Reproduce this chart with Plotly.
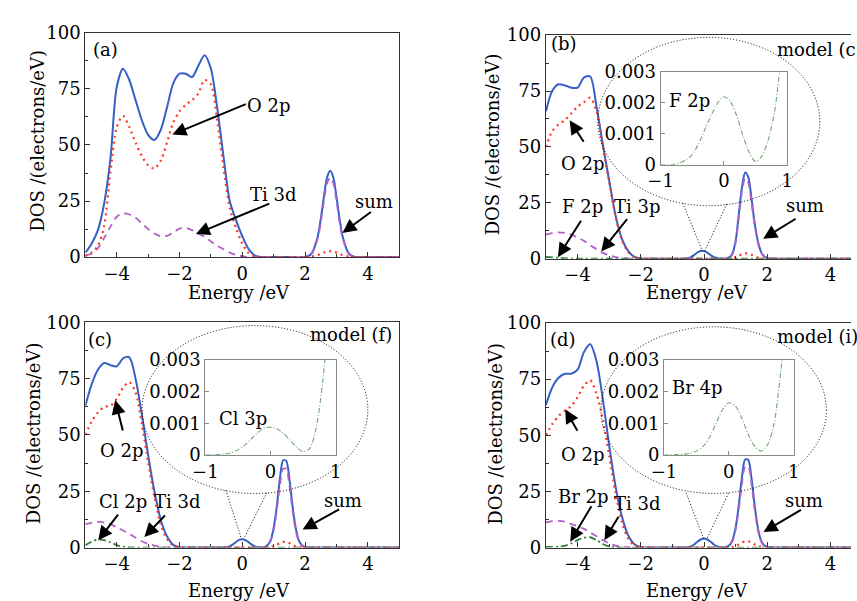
import plotly.graph_objects as go

W, H = 857, 601
FONT = "DejaVu Serif"
FS = 18

# ---------------- data ----------------
# panel (a)
E_a = [-5.0, -4.8, -4.6, -4.4, -4.2, -4.0, -3.8, -3.6, -3.4, -3.2, -3.0, -2.8, -2.6, -2.4, -2.2,
       -2.0, -1.8, -1.6, -1.4, -1.2, -1.0, -0.8, -0.6, -0.4, -0.2, 0.0, 0.2, 0.4, 0.6,
       1.0, 1.5, 2.0, 2.2, 2.4, 2.5, 2.6, 2.7, 2.8, 2.9, 3.0, 3.1, 3.2, 3.4, 3.6, 3.8, 4.0, 4.5, 5.0]
sum_a = [2, 6, 12, 24, 44, 76, 84, 79, 70, 61, 54.5, 52.2, 56.7, 66.7, 77.5,
         81.8, 81.8, 80.3, 85.4, 90, 84, 66.7, 45, 25, 16.5, 9.3, 3.6, 0.7, 0,
         0, 0, 0, 1.5, 9, 17, 27, 35.5, 38.5, 35.5, 27, 17, 9, 1.5, 0, 0, 0, 0, 0]
o2p_a = [0.5, 2, 5, 14, 38, 58, 63, 58, 51, 45, 41, 39.5, 43, 51, 60,
         65, 68, 70, 73, 79, 77, 61, 40, 22, 13, 6, 1.8, 0.3, 0,
         0, 0, 0, 0.2, 0.9, 1.4, 2, 2.5, 2.7, 2.5, 2, 1.4, 0.9, 0.2, 0, 0, 0, 0, 0]
ti3d_a = [0.8, 1.5, 4, 8.5, 13.6, 18, 19.5, 19, 17.5, 15, 12.5, 10.5, 9.3, 9.5, 11,
          12.7, 13, 12, 10.5, 9, 7, 5, 3.5, 2, 1, 0.4, 0, 0, 0,
          0, 0, 0, 1.2, 8.3, 15.5, 25, 33, 35.5, 33, 25, 15.5, 8.3, 1.2, 0, 0, 0, 0, 0]

# shared energy grid of panels (b), (c), (d)
E_bcd = [-5.0, -4.8, -4.6, -4.4, -4.2, -4.0, -3.8, -3.6, -3.4, -3.2, -3.0, -2.8, -2.6, -2.4, -2.2,
         -2.0, -1.6, -1.2, -0.8,
         -0.6, -0.5, -0.4, -0.3, -0.2, -0.1, 0.0, 0.1, 0.2, 0.3, 0.4, 0.5, 0.6, 0.7, 0.8, 0.9,
         1.0, 1.1, 1.2, 1.3, 1.4, 1.5, 1.6, 1.7, 1.8, 1.9, 2.0, 2.1, 2.2,
         2.6, 3.0, 4.0, 5.0]

# panel (b)
sum_b = [66, 75, 78, 77.5, 76.5, 76.5, 81, 81.5, 68, 51, 35, 19.5, 9, 3.5, 0.8,
         0.1, 0, 0, 0,
         0, 0.2, 0.8, 1.8, 2.9, 3.6, 3.4, 2.7, 1.7, 0.8, 0.3, 0.05, 0, 0.1, 0.6, 2.5,
         8, 20, 32, 38.6, 36.5, 27, 16, 8, 3.2, 1.1, 0.3, 0.1, 0,
         0, 0, 0, 0]
o2p_b = [50, 57, 60, 62, 65, 68, 70, 72, 66, 50, 34.5, 19, 8.5, 3, 0.7,
         0.1, 0, 0, 0,
         0, 0, 0, 0, 0, 0, 0, 0, 0, 0, 0, 0, 0, 0, 0.05, 0.2,
         0.6, 1.3, 2, 2.4, 2.3, 1.8, 1.1, 0.6, 0.3, 0.1, 0, 0, 0,
         0, 0, 0, 0]
ti3d_b = [10.8, 11.5, 11.8, 11.5, 10.8, 9.5, 8, 6, 4.3, 2.6, 1.5, 0.7, 0.3, 0.1, 0,
          0, 0, 0, 0,
          0, 0, 0, 0, 0, 0, 0, 0, 0, 0, 0, 0, 0, 0, 0.4, 2,
          7.5, 18.5, 30, 36, 34, 25, 15, 7.5, 3, 1, 0.3, 0.1, 0,
          0, 0, 0, 0]
f2p_b = [0.8, 0.6, 0.4, 0.2, 0.1, 0.05, 0, 0, 0, 0, 0, 0, 0, 0, 0,
         0, 0, 0, 0,
         0, 0, 0, 0, 0, 0, 0, 0, 0, 0, 0, 0, 0, 0, 0, 0,
         0, 0, 0, 0, 0, 0, 0, 0, 0, 0, 0, 0, 0,
         0, 0, 0, 0]

# panel (c)
sum_c = [63, 72.5, 79, 82, 81, 80.5, 84, 84.5, 75, 59, 41, 25, 12.5, 5, 1.2,
         0.2, 0, 0, 0,
         0, 0.1, 0.5, 1.4, 2.5, 3.4, 3.7, 3.3, 2.4, 1.3, 0.5, 0.1, 0, 0.2, 1, 3.2,
         8.8, 18.5, 31, 38.8, 38.5, 30.5, 18.5, 8.8, 3.2, 1, 0.3, 0.1, 0,
         0, 0, 0, 0]
o2p_c = [50, 56, 60, 62.5, 63, 66, 71, 73.5, 69, 55, 38, 22.5, 10.5, 3.8, 0.9,
         0.1, 0, 0, 0,
         0, 0, 0, 0, 0, 0, 0, 0, 0, 0, 0, 0, 0, 0, 0.1, 0.3,
         0.6, 1.2, 2, 2.5, 2.5, 2, 1.2, 0.6, 0.3, 0.1, 0, 0, 0,
         0, 0, 0, 0]
ti3d_c = [10.4, 11, 11.4, 11.2, 10.4, 9, 7.6, 6.1, 4.4, 2.8, 1.6, 0.9, 0.4, 0.1, 0,
          0, 0, 0, 0,
          0, 0, 0, 0, 0, 0, 0, 0, 0, 0, 0, 0, 0, 0, 0.8, 2.8,
          7.8, 16.6, 27.8, 35, 35, 27.8, 16.6, 7.8, 2.8, 0.8, 0.2, 0, 0,
          0, 0, 0, 0]
cl2p_c = [1.1, 2.6, 3.6, 3.3, 2.3, 1.1, 0.4, 0.1, 0, 0, 0, 0, 0, 0, 0,
          0, 0, 0, 0,
          0, 0, 0, 0, 0, 0, 0, 0, 0, 0, 0, 0, 0, 0, 0, 0,
          0, 0, 0, 0, 0, 0, 0, 0, 0, 0, 0, 0, 0,
          0, 0, 0, 0]

# panel (d)
sum_d = [63.5, 71.3, 75.6, 77.4, 77.4, 79.2, 87, 90.5, 83, 66, 45.5, 27.5, 14, 5.5, 1.5,
         0.3, 0, 0, 0,
         0, 0.1, 0.6, 1.5, 2.7, 3.6, 4, 3.6, 2.7, 1.5, 0.6, 0.1, 0, 0.2, 1, 3.3,
         9, 19, 31.5, 39.2, 39, 31, 19, 9, 3.3, 1, 0.3, 0.1, 0,
         0, 0, 0, 0]
o2p_d = [50, 55, 58.5, 61, 63, 67, 72, 74.5, 68.5, 57, 41, 24.5, 11.5, 4, 1,
         0.2, 0, 0, 0,
         0, 0, 0, 0, 0, 0, 0, 0, 0, 0, 0, 0, 0, 0, 0.1, 0.3,
         0.7, 1.4, 2.2, 2.8, 2.8, 2.2, 1.4, 0.7, 0.3, 0.1, 0, 0, 0,
         0, 0, 0, 0]
ti3d_d = [11.2, 11.8, 11.9, 11.5, 10.5, 9.5, 8.3, 6.8, 5, 3.3, 1.9, 0.9, 0.4, 0.1, 0,
          0, 0, 0, 0,
          0, 0, 0, 0, 0, 0, 0, 0, 0, 0, 0, 0, 0, 0, 0.8, 2.9,
          8, 17, 28.5, 36, 36, 28.5, 17, 8, 2.9, 0.8, 0.2, 0, 0,
          0, 0, 0, 0]
br2p_d = [0.3, 0.3, 0.4, 0.8, 1.8, 3.3, 4.4, 4.6, 3.3, 1.6, 0.5, 0.1, 0, 0, 0,
          0, 0, 0, 0,
          0, 0, 0, 0, 0, 0, 0, 0, 0, 0, 0, 0, 0, 0, 0, 0,
          0, 0, 0, 0, 0, 0, 0, 0, 0, 0, 0, 0, 0,
          0, 0, 0, 0]

# insets (near the Fermi level)
E_ins = [-1.0, -0.9, -0.8, -0.7, -0.6, -0.5, -0.4, -0.3, -0.2, -0.1, 0.0,
         0.1, 0.2, 0.3, 0.4, 0.5, 0.6, 0.7, 0.8, 0.9]
f2p_ins = [0, 0, 0.00001, 0.00006, 0.00015, 0.00033, 0.00068, 0.00115, 0.0016, 0.002, 0.0022,
           0.00205, 0.0016, 0.00095, 0.0004, 0.0001, 0.00028, 0.0008, 0.0017, 0.0034]
cl3p_ins = [0, 0, 0.00001, 0.00003, 0.00007, 0.00016, 0.0003, 0.0005, 0.0007, 0.00084, 0.00088,
            0.00082, 0.00068, 0.00047, 0.00025, 0.0001, 0.0002, 0.00085, 0.0023, 0.0046]
br4p_ins = [0, 0, 0.00001, 0.00002, 0.00005, 0.00012, 0.00026, 0.00055, 0.00098, 0.00142, 0.00165,
            0.00155, 0.00117, 0.00065, 0.00027, 0.00012, 0.00033, 0.001, 0.0026, 0.0046]

X_TICKS = [-4, -2, 0, 2, 4]
Y_TICKS = [0, 25, 50, 75, 100]

# ---------------- styles ----------------
BLUE = "#3560c5"
RED = "#ff3322"
PURPLE = "#b360c8"
GREEN = "#2d7f35"
IGREEN = "#6ea86e"
AXC = "#333333"

fig = go.Figure()


def line(x, y, ax, color, dash, width):
    fig.add_trace(go.Scatter(
        x=x, y=y, xaxis="x" + ax, yaxis="y" + ax, mode="lines", hoverinfo="skip",
        line=dict(color=color, dash=dash, width=width, shape="spline", smoothing=0.8)))


DOT = "2px,4px"
DASH = "7px,5px"
DASHDOT = "7px,3px,2px,3px"

# (a)
line(E_a, sum_a, "", BLUE, "solid", 2)
line(E_a, ti3d_a, "", PURPLE, DASH, 1.8)
line(E_a, o2p_a, "", RED, DOT, 2.2)
# (b)
line(E_bcd, sum_b, "2", BLUE, "solid", 2)
line(E_bcd, ti3d_b, "2", PURPLE, DASH, 1.8)
line(E_bcd, f2p_b, "2", GREEN, DASHDOT, 1.8)
line(E_bcd, o2p_b, "2", RED, DOT, 2.2)
# (c)
line(E_bcd, sum_c, "3", BLUE, "solid", 2)
line(E_bcd, ti3d_c, "3", PURPLE, DASH, 1.8)
line(E_bcd, cl2p_c, "3", GREEN, DASHDOT, 1.8)
line(E_bcd, o2p_c, "3", RED, DOT, 2.2)
# (d)
line(E_bcd, sum_d, "4", BLUE, "solid", 2)
line(E_bcd, ti3d_d, "4", PURPLE, DASH, 1.8)
line(E_bcd, br2p_d, "4", GREEN, DASHDOT, 1.8)
line(E_bcd, o2p_d, "4", RED, DOT, 2.2)
# insets
line(E_ins, f2p_ins, "5", IGREEN, "5px,2px,1px,2px", 1.1)
line(E_ins, cl3p_ins, "6", IGREEN, "5px,2px,1px,2px", 1.1)
line(E_ins, br4p_ins, "7", IGREEN, "5px,2px,1px,2px", 1.1)


def xdom(l, r):
    return [l / W, min(r / W, 1.0)]


def ydom(top, bot):
    return [1 - bot / H, 1 - top / H]


tickfont = dict(family=FONT, size=FS, color="black")


def main_x(dom, rng, anchor):
    return dict(domain=dom, range=rng, anchor=anchor, showline=True, linecolor=AXC, linewidth=1.2,
                mirror=True, ticks="inside", ticklen=5, tickcolor=AXC, tickvals=X_TICKS,
                showgrid=False, zeroline=False, tickfont=tickfont,
                minor=dict(ticks="inside", ticklen=3, dtick=1, tickcolor=AXC, showgrid=False))


def main_y(dom, anchor, mirror):
    return dict(domain=dom, range=[0, 100], anchor=anchor, showline=True, linecolor=AXC, linewidth=1.2,
                mirror=mirror, ticks="inside", ticklen=5, tickcolor=AXC, tickvals=Y_TICKS,
                showgrid=False, zeroline=False, tickfont=tickfont,
                minor=dict(ticks="inside", ticklen=3, dtick=12.5, tickcolor=AXC, showgrid=False))


def ins_x(dom, anchor):
    return dict(domain=dom, range=[-1, 1], anchor=anchor, showline=True, linecolor="#8a8a8a",
                linewidth=1, mirror=True, ticks="inside", ticklen=4, tickcolor="#8a8a8a", dtick=1,
                showgrid=False, zeroline=False, tickfont=tickfont)


def ins_y(dom, anchor):
    return dict(domain=dom, range=[0, 0.003], anchor=anchor, showline=True, linecolor="#8a8a8a",
                linewidth=1, mirror=True, ticks="inside", ticklen=4, tickcolor="#8a8a8a",
                dtick=0.001, showgrid=False, zeroline=False, tickfont=tickfont)


R_B = (W - 706.7) / 32.34   # right edge of the cut-off panels (b), (d)

layout_axes = dict(
    xaxis=main_x(xdom(74, 395), [-5, 5], "y"),
    yaxis=main_y(ydom(22.7, 255), "x", True),
    xaxis2=main_x(xdom(545, 857), [-5, R_B], "y2"),
    yaxis2=main_y(ydom(25, 256.7), "x2", False),
    xaxis3=main_x(xdom(74, 395), [-5, 5], "y3"),
    yaxis3=main_y(ydom(322.7, 556), "x3", True),
    xaxis4=main_x(xdom(545, 857), [-5, R_B], "y4"),
    yaxis4=main_y(ydom(323.3, 556), "x4", False),
    xaxis5=ins_x(xdom(662.3, 791.7), "y5"),
    yaxis5=ins_y(ydom(63.3, 159.3), "x5"),
    xaxis6=ins_x(xdom(196.7, 330), "y6"),
    yaxis6=ins_y(ydom(361.7, 460), "x6"),
    xaxis7=ins_x(xdom(665.7, 798.3), "y7"),
    yaxis7=ins_y(ydom(361.7, 460), "x7"),
)

# ---------------- annotations ----------------
ann = []


def text(px, py, s, anchor="center", angle=0):
    ann.append(dict(x=px / W, y=1 - py / H, xref="paper", yref="paper", text=s, showarrow=False,
                    xanchor=anchor, yanchor="middle", textangle=angle,
                    font=dict(family=FONT, size=FS, color="black")))


def arrow(ax_id, tipx, tipy, dx, dy):
    ann.append(dict(x=tipx, y=tipy, xref="x" + ax_id, yref="y" + ax_id, ax=dx, ay=dy,
                    axref="pixel", ayref="pixel", text="", showarrow=True, arrowhead=2,
                    arrowsize=1.4, arrowwidth=2, arrowcolor="black", standoff=0))


# axis titles
for cx, cy in [(231, 292), (700, 292), (231, 600), (700, 600)]:
    text(cx, cy, "Energy /eV")
for cx, cy in [(25, 134), (490, 138), (21, 438), (494, 438)]:
    text(cx, cy, "DOS /(electrons/eV)", angle=-90)

# (a)
text(94.5, 40, "(a)")
text(261, 98, "O 2p")
text(266, 190, "Ti 3d")
text(369, 197, "sum")
arrow("", -2.23, 54.7, 75, -31)
arrow("", -1.48, 10.3, 75, -31)
arrow("", 3.19, 10.8, 30, -22)

# (b)
text(563, 34, "(b)")
text(779, 40, "model (c)", anchor="left")
text(582, 158, "O 2p")
text(582, 203, "F 2p")
text(638, 203, "Ti 3p")
text(810, 202, "sum")
text(692, 93, "F 2p")
arrow("2", -4.25, 61.9, 15, 23)
arrow("2", -4.62, 0.7, 24, -38)
arrow("2", -3.25, 3.2, 27, -34)
arrow("2", 1.87, 8.9, 34, -21)

# (c)
text(89, 340, "(c)")
text(346, 335, "model (f)")
text(111, 455, "O 2p")
text(112.5, 508, "Cl 2p")
text(168, 508, "Ti 3d")
text(337.5, 507, "sum")
text(235, 422, "Cl 3p")
arrow("3", -4.05, 65.5, 8, 32)
arrow("3", -4.59, 3.3, 21, -27)
arrow("3", -3.12, 4.7, 22, -23)
arrow("3", 1.92, 8.0, 38, -21)

# (d)
text(562, 340, "(d)")
text(779, 337, "model (i)", anchor="left")
text(582, 460, "O 2p")
text(583, 503, "Br 2p")
text(638, 510, "Ti 3d")
text(809, 507, "sum")
text(700, 390, "Br 4p")
arrow("4", -4.39, 61.6, 13, 23)
arrow("4", -4.23, 2.6, 22, -37)
arrow("4", -3.15, 3.3, 15, -25)
arrow("4", 1.88, 6.9, 39, -23)

# ---------------- magnifier ellipses ----------------
shapes = []
EL = dict(color="black", width=1, dash="1px,2px")


def magnifier(ax_id, x0, x1, y0, y1, l0, l1, r0, r1):
    shapes.append(dict(type="circle", xref="x" + ax_id, yref="y" + ax_id,
                       x0=x0, x1=x1, y0=y0, y1=y1, line=EL))
    shapes.append(dict(type="line", xref="x" + ax_id, yref="y" + ax_id,
                       x0=l0[0], y0=l0[1], x1=l1[0], y1=l1[1], line=EL))
    shapes.append(dict(type="line", xref="x" + ax_id, yref="y" + ax_id,
                       x0=r0[0], y0=r0[1], x1=r1[0], y1=r1[1], line=EL))


magnifier("2", -3.36, 3.66, 23.7, 99, (-0.67, 24.8), (-0.05, 3.4), (0.72, 24.5), (0.02, 3.4))
magnifier("3", -3.19, 4.0, 24, 98.6, (-0.52, 25.4), (-0.03, 4.0), (0.78, 24.3), (0.05, 4.0))
magnifier("4", -3.26, 3.87, 24.1, 98.3, (-0.57, 24.4), (0.0, 3.6), (0.77, 24.1), (0.08, 3.6))

fig.update_layout(
    width=W, height=H, margin=dict(l=0, r=0, t=0, b=0),
    paper_bgcolor="white", plot_bgcolor="white", showlegend=False,
    font=dict(family=FONT, size=FS, color="black"),
    annotations=ann, shapes=shapes, **layout_axes)

fig.write_html("out.html")
